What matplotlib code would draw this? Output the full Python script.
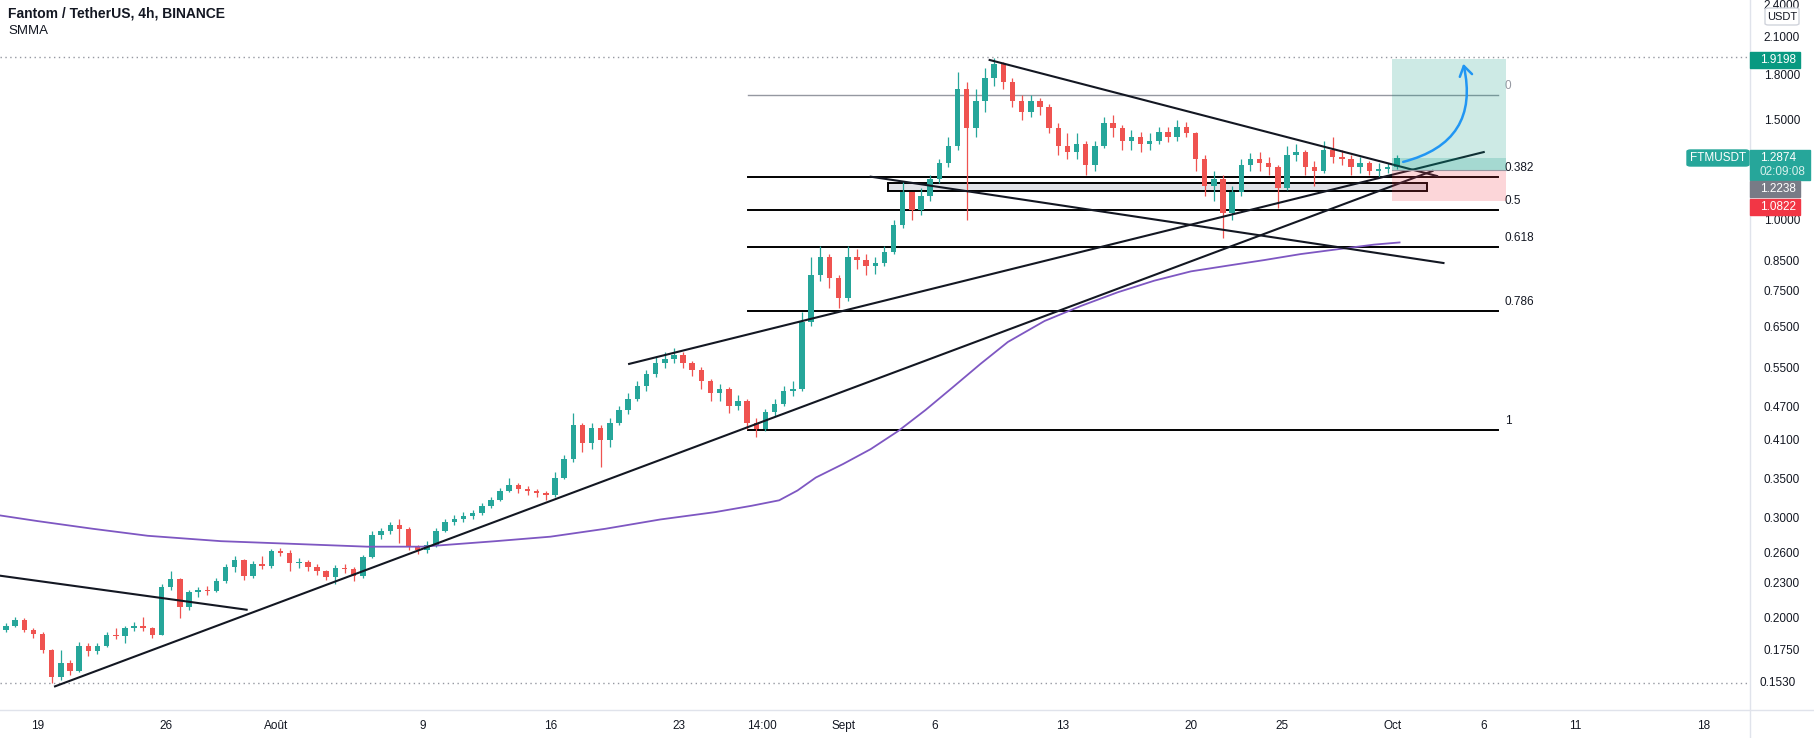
import numpy as np
import matplotlib.pyplot as plt
from matplotlib.patches import Rectangle, FancyArrowPatch, FancyBboxPatch
from matplotlib.lines import Line2D

plt.rcParams['font.family'] = ['Liberation Sans', 'DejaVu Sans']

W, H = 1814, 738

# x is counted in days from 19 Jul 2021 00:00, candles are 12h long
first_day = -2.0
first_open = 0.190
closes = [0.193, 0.198, 0.190, 0.187, 0.175, 0.157, 0.166, 0.161, 0.178, 0.174,
          0.178, 0.186, 0.185, 0.191, 0.193, 0.191, 0.186, 0.226, 0.233, 0.208,
          0.221, 0.223, 0.222, 0.231, 0.245, 0.252, 0.236, 0.248, 0.246, 0.261,
          0.259, 0.249, 0.250, 0.245, 0.241, 0.235, 0.244, 0.243, 0.236, 0.255,
          0.279, 0.283, 0.290, 0.286, 0.266, 0.262, 0.268, 0.284, 0.294, 0.298,
          0.301, 0.305, 0.314, 0.322, 0.334, 0.342, 0.336, 0.334, 0.330, 0.328,
          0.352, 0.380, 0.435, 0.405, 0.430, 0.410, 0.440, 0.462, 0.485, 0.510,
          0.535, 0.560, 0.570, 0.578, 0.560, 0.545, 0.520, 0.495, 0.505, 0.470,
          0.480, 0.440, 0.428, 0.460, 0.475, 0.500, 0.505, 0.660, 0.800, 0.860,
          0.790, 0.730, 0.860, 0.850, 0.830, 0.840, 0.880, 0.980, 1.12, 1.04,
          1.10, 1.18, 1.26, 1.35, 1.70, 1.45, 1.62, 1.78, 1.88, 1.75,
          1.62, 1.55, 1.62, 1.58, 1.45, 1.35, 1.32, 1.36, 1.25, 1.35,
          1.48, 1.45, 1.38, 1.40, 1.36, 1.38, 1.43, 1.40, 1.46, 1.42,
          1.28, 1.15, 1.18, 1.03, 1.12, 1.25, 1.28, 1.26, 1.24, 1.14,
          1.30, 1.32, 1.24, 1.22, 1.33, 1.29, 1.28, 1.24, 1.26, 1.22,
          1.23, 1.24, 1.2874]
highs = [0.195, 0.200, 0.199, 0.191, 0.188, 0.176, 0.175, 0.168, 0.181, 0.180,
         0.180, 0.188, 0.191, 0.193, 0.196, 0.200, 0.192, 0.229, 0.241, 0.234,
         0.223, 0.226, 0.227, 0.234, 0.248, 0.256, 0.253, 0.251, 0.256, 0.263,
         0.265, 0.262, 0.254, 0.252, 0.248, 0.242, 0.247, 0.248, 0.245, 0.257,
         0.283, 0.287, 0.294, 0.298, 0.288, 0.268, 0.272, 0.287, 0.298, 0.303,
         0.306, 0.309, 0.318, 0.326, 0.338, 0.352, 0.344, 0.340, 0.336, 0.334,
         0.360, 0.385, 0.458, 0.440, 0.440, 0.435, 0.448, 0.470, 0.495, 0.520,
         0.545, 0.575, 0.585, 0.595, 0.585, 0.565, 0.550, 0.525, 0.515, 0.508,
         0.492, 0.485, 0.448, 0.465, 0.485, 0.510, 0.520, 0.690, 0.860, 0.900,
         0.870, 0.800, 0.900, 0.890, 0.870, 0.860, 0.900, 1.00, 1.17, 1.12,
         1.14, 1.20, 1.28, 1.40, 1.82, 1.75, 1.70, 1.85, 1.93, 1.90,
         1.78, 1.66, 1.66, 1.64, 1.60, 1.48, 1.42, 1.42, 1.38, 1.38,
         1.52, 1.53, 1.47, 1.44, 1.43, 1.42, 1.46, 1.46, 1.50, 1.49,
         1.43, 1.30, 1.22, 1.20, 1.15, 1.28, 1.31, 1.32, 1.29, 1.25,
         1.35, 1.36, 1.33, 1.27, 1.38, 1.40, 1.33, 1.30, 1.29, 1.27,
         1.26, 1.26, 1.30]
lows = [0.188, 0.192, 0.188, 0.184, 0.173, 0.153, 0.155, 0.158, 0.160, 0.171,
        0.172, 0.177, 0.183, 0.180, 0.189, 0.189, 0.184, 0.186, 0.223, 0.199,
        0.206, 0.217, 0.219, 0.221, 0.230, 0.240, 0.232, 0.234, 0.243, 0.244,
        0.256, 0.241, 0.244, 0.241, 0.237, 0.232, 0.229, 0.239, 0.231, 0.234,
        0.254, 0.274, 0.280, 0.270, 0.262, 0.258, 0.259, 0.266, 0.282, 0.290,
        0.294, 0.297, 0.303, 0.311, 0.320, 0.332, 0.330, 0.328, 0.325, 0.322,
        0.326, 0.350, 0.375, 0.390, 0.395, 0.368, 0.398, 0.435, 0.455, 0.480,
        0.500, 0.530, 0.548, 0.560, 0.548, 0.532, 0.505, 0.480, 0.480, 0.458,
        0.462, 0.428, 0.415, 0.425, 0.452, 0.470, 0.490, 0.500, 0.650, 0.780,
        0.760, 0.700, 0.720, 0.820, 0.800, 0.805, 0.830, 0.870, 0.970, 1.00,
        1.02, 1.08, 1.16, 1.24, 1.33, 1.00, 1.40, 1.55, 1.72, 1.70,
        1.58, 1.50, 1.52, 1.53, 1.42, 1.30, 1.28, 1.28, 1.20, 1.22,
        1.34, 1.40, 1.33, 1.33, 1.32, 1.33, 1.36, 1.37, 1.38, 1.40,
        1.22, 1.10, 1.08, 0.93, 1.00, 1.10, 1.22, 1.22, 1.20, 1.05,
        1.13, 1.27, 1.20, 1.15, 1.21, 1.26, 1.25, 1.20, 1.21, 1.20,
        1.19, 1.21, 1.23]

# SMMA
smma_days = [-2.1, 0, 3, 6, 10, 14, 18, 21, 25, 28, 31, 34, 37, 39, 40.5, 41.5,
             42.5, 44, 45.5, 47, 48.5, 50, 51.5, 53, 55, 57, 59, 61, 63, 65, 67,
             69, 71, 73, 74.4]
smma_vals = [0.302, 0.295, 0.286, 0.278, 0.272, 0.269, 0.266, 0.266, 0.272, 0.277,
             0.286, 0.297, 0.306, 0.314, 0.321, 0.334, 0.352, 0.372, 0.395, 0.425,
             0.463, 0.508, 0.558, 0.610, 0.664, 0.706, 0.746, 0.782, 0.812, 0.831,
             0.850, 0.871, 0.888, 0.905, 0.913]

# drawn trendlines (day, price) pairs
trendlines = [
    [(-2.08, 0.2365), (11.4, 0.206)],
    [(0.93, 0.151), (76.2, 1.22)],
    [(32.3, 0.558), (79.0, 1.317)],
    [(52.0, 1.913), (76.45, 1.195)],
    [(45.5, 1.192), (76.8, 0.84)],
]

fib_labels = ['0', '0.382', '0.5', '0.618', '0.786', '1']
fib_prices = [1.66, 1.189, 1.04, 0.898, 0.691, 0.427]
fib_start, fib_end = 38.8, 79.8

zone_lo, zone_hi = 1.126, 1.164
zone_start, zone_end = 46.45, 75.9

target, entry, stop, last_price = 1.9198, 1.2238, 1.0822, 1.2874
pos_start, pos_end = 74.0, 80.2

ytick_vals = [2.4, 2.1, 1.8, 1.5, 1.0, 0.85, 0.75, 0.65, 0.55, 0.47, 0.41,
              0.35, 0.30, 0.26, 0.23, 0.20, 0.175]
xtick_pos = [0, 7, 13, 21, 28, 35, 39.58, 44, 49, 56, 63, 68, 74, 79, 84, 91]
xtick_lab = ['19', '26', 'Août', '9', '16', '23', '14:00', 'Sept', '6', '13',
             '20', '25', 'Oct', '6', '11', '18']

UP, DOWN = '#26a69a', '#ef5350'
INK = '#131722'

fig = plt.figure(figsize=(W / 100, H / 100), dpi=100)
ax = fig.add_axes([0, 28 / H, 1750 / W, 710 / H])
ax.set_yscale('log')
ax.set_xlim(-2.077, 93.55)
ax.set_ylim(0.1372, 2.4395)
for s in ax.spines.values():
    s.set_visible(False)

# candles
opens = [first_open] + closes[:-1]
xs = first_day + 0.25 + 0.5 * np.arange(len(closes))
for x, o, h, l, c in zip(xs, opens, highs, lows, closes):
    col = UP if c >= o else DOWN
    ax.vlines(x, l, h, color=col, lw=0.9, zorder=3)
    lo_b, hi_b = min(o, c), max(o, c)
    hi_b = max(hi_b, lo_b * 1.003)
    ax.bar(x, hi_b - lo_b, bottom=lo_b, width=0.3, color=col, lw=0, zorder=4)

ax.plot(smma_days, smma_vals, color='#7e57c2', lw=1.3, zorder=5)

# high / low dotted lines
for p in (1.935, 0.153):
    ax.axhline(p, color='#9598a1', lw=1, ls=(0, (1, 2.5)), zorder=2)

# support zone
ax.add_patch(Rectangle((zone_start, zone_lo), zone_end - zone_start, zone_hi - zone_lo,
                       fc='#e1e2e7', ec='black', lw=1.4, zorder=2))

# fib retracement
for lab, p in zip(fib_labels, fib_prices):
    gray = lab == '0'
    ax.plot([fib_start, fib_end], [p, p], color='#9598a1' if gray else 'black',
            lw=1 if gray else 1.4, zorder=2)
    ax.text(fib_end + 0.35, p * 1.012, lab, fontsize=8.5, va='bottom', ha='left',
            color='#9598a1' if gray else INK)

for (x0, y0), (x1, y1) in trendlines:
    ax.plot([x0, x1], [y0, y1], color=INK, lw=1.5, zorder=6)

# long position tool
ax.add_patch(Rectangle((pos_start, entry), pos_end - pos_start, target - entry,
                       fc='#089981', alpha=0.2, lw=0, zorder=7))
ax.add_patch(Rectangle((pos_start, entry), pos_end - pos_start, last_price - entry,
                       fc='#089981', alpha=0.2, lw=0, zorder=7))
ax.add_patch(Rectangle((pos_start, stop), pos_end - pos_start, entry - stop,
                       fc='#f23645', alpha=0.2, lw=0, zorder=7))
ax.plot([pos_start, pos_end], [entry, entry], color='#9598a1', lw=0.8, zorder=7)

arrow = FancyArrowPatch((74.45, 1.262), (77.85, 1.905),
                        connectionstyle='arc3,rad=0.5',
                        arrowstyle='->,head_length=7,head_width=4.5',
                        color='#2196f3', lw=1.8, zorder=8)
ax.add_patch(arrow)

# axes ticks
ax.yaxis.tick_right()
ax.set_yticks(ytick_vals)
ax.set_yticklabels([f'{v:.4f}' for v in ytick_vals])
ax.yaxis.set_minor_locator(plt.NullLocator())
ax.tick_params(axis='y', length=0, pad=10, labelsize=8.5, colors=INK)
ax.set_xticks(xtick_pos)
ax.set_xticklabels(xtick_lab)
ax.tick_params(axis='x', length=0, pad=7, labelsize=8.5, colors=INK)


def fx(px):
    return px / W


def fy(py):
    return 1 - py / H


# frame lines of the price and time scales
fig.add_artist(Line2D([fx(1750), fx(1750)], [0, 1], color='#e0e3eb', lw=1))
fig.add_artist(Line2D([0, 1], [fy(710), fy(710)], color='#e0e3eb', lw=1))


def scale_box(x0, x1, y0, y1, fc, ec=None, rounded=False):
    style = 'round,pad=0,rounding_size=0.002' if rounded else 'square,pad=0'
    fig.add_artist(FancyBboxPatch((fx(x0), fy(y1)), fx(x1) - fx(x0), fy(y0) - fy(y1),
                                  boxstyle=style, fc=fc, ec=ec or fc, lw=1,
                                  transform=fig.transFigure, zorder=10))


def scale_text(x, y, s, color='white', size=8.5, ha='left'):
    fig.text(fx(x), fy(y), s, color=color, fontsize=size, ha=ha, va='center', zorder=11)


ymin_text = ax.transData.transform((0, 0.153))[1]
scale_text(1760, H - ymin_text, '0.1530', color=INK)

scale_box(1750, 1800, 52, 68, '#089981')
scale_text(1760, 60, '1.9198')
scale_box(1687, 1749, 150, 166, '#26a69a', rounded=True)
scale_text(1718, 158, 'FTMUSDT', ha='center')
scale_box(1750, 1810, 150, 180, '#26a69a')
scale_text(1760, 158, '1.2874')
scale_text(1760, 172, '02:09:08', color='#d7f0ec')
scale_box(1750, 1800, 181, 197, '#787b86')
scale_text(1760, 189, '1.2238')
scale_box(1750, 1800, 199, 215, '#f23645')
scale_text(1760, 207, '1.0822')
scale_box(1765, 1799, 8, 25, 'white', ec='#d1d4dc', rounded=True)
scale_text(1782, 16.5, 'USDT', color=INK, size=8, ha='center')

fig.text(fx(8), fy(14), 'Fantom / TetherUS, 4h, BINANCE', fontsize=10,
         fontweight='semibold', color=INK, va='center')
fig.text(fx(8), fy(31), 'SMMA', fontsize=9.5, color=INK, va='center')

fig.savefig('out.png', dpi=100, facecolor='white')
